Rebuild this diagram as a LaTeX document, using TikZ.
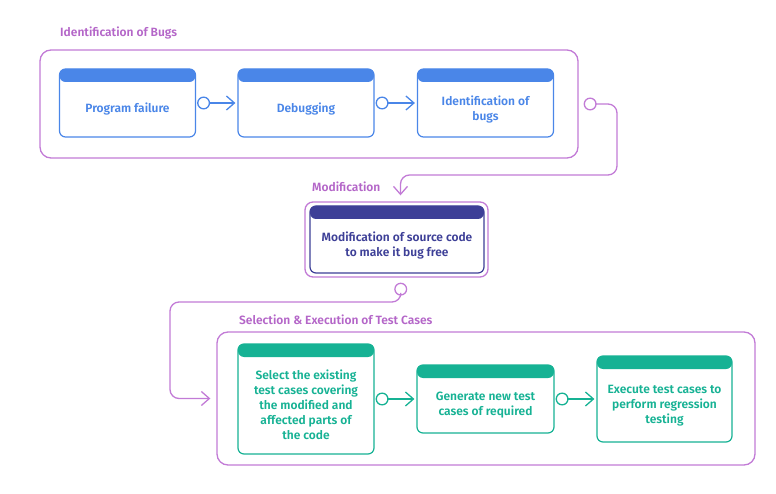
\documentclass[tikz,border=0pt]{standalone}
\usepackage{fontspec}
\setmainfont{Fira Sans}[BoldFont={Fira Sans SemiBold}]
\usetikzlibrary{arrows.meta}

\definecolor{bugblue}{HTML}{4A86E8}
\definecolor{modnavy}{HTML}{3D3F97}
\definecolor{testteal}{HTML}{16B294}
\definecolor{grppurple}{HTML}{C27BD6}
\definecolor{ttlpurple}{HTML}{B466C8}

\tikzset{
  grp/.style={draw=grppurple, line width=1.3pt, rounded corners=11pt, inner sep=0pt},
  hbox/.style={draw=#1, line width=1.2pt, rounded corners=6pt, fill=white, inner sep=0pt,
    path picture={\fill[#1] ([yshift=2pt]path picture bounding box.north west)
      rectangle ([yshift=-13pt]path picture bounding box.north east);}},
  btxt/.style={text=#1, align=center, inner sep=0pt},
  ttl/.style={text=ttlpurple, anchor=west, inner sep=0pt},
  link/.style={draw=#1, line width=1.3pt,
    arrows={Circle[open,length=13pt,width=13pt]-Straight Barb[length=8pt,width=14pt]},
    shorten <=1pt, shorten >=2pt},
  flow/.style={link=grppurple, rounded corners=9pt, shorten <=5pt, shorten >=6pt}
}

\begin{document}
\begin{tikzpicture}[x=1pt, y=-1pt, font=\fontsize{12pt}{15pt}\selectfont\bfseries]
    \useasboundingbox (0,0) rectangle (776,494);

    % Identification of bugs
    \node[ttl] (bugsttl) at (60,33) {Identification of Bugs};
    \node[grp, minimum width=538pt, minimum height=108pt] (bugs) at (309,104) {};
    \node[hbox=bugblue, minimum width=136pt, minimum height=68pt] (pf) at (127.5,103) {};
    \node[hbox=bugblue, minimum width=136pt, minimum height=68pt] (dbg) at (306,103) {};
    \node[hbox=bugblue, minimum width=136pt, minimum height=68pt] (idb) at (485.5,103) {};
    \node[btxt=bugblue] (pftxt) at ([yshift=-6.5pt]pf.center) {Program failure};
    \node[btxt=bugblue] (dbgtxt) at ([yshift=-6.5pt]dbg.center) {Debugging};
    \node[btxt=bugblue] (idbtxt) at ([yshift=-6.5pt]idb.center) {Identification of\\bugs};
    \draw[link=bugblue] (pf.east) -- (dbg.west);
    \draw[link=bugblue] (dbg.east) -- (idb.west);

    % Modification
    \node[ttl] (modttl) at (312,187) {Modification};
    \node[grp, rounded corners=8pt, minimum width=183pt, minimum height=75pt] (mod) at (396.5,239.5) {};
    \node[hbox=modnavy, minimum width=174pt, minimum height=67pt] (msc) at (397,239.5) {};
    \node[btxt=modnavy] (msctxt) at ([yshift=-6pt]msc.center) {Modification of source code\\to make it bug free};

    % Selection & execution of test cases
    \node[ttl] (selttl) at (239,320) {Selection \& Execution of Test Cases};
    \node[grp, minimum width=538pt, minimum height=133pt] (sel) at (486,398.5) {};
    \node[hbox=testteal, minimum width=136pt, minimum height=110pt] (stc) at (306,399) {};
    \node[hbox=testteal, minimum width=137pt, minimum height=68pt] (gen) at (485.5,399) {};
    \node[hbox=testteal, minimum width=135pt, minimum height=86pt] (exe) at (664.5,399) {};
    \node[btxt=testteal] (stctxt) at ([yshift=-6pt]stc.center)
        {Select the existing\\test cases covering\\the modified and\\affected parts of\\the code};
    \node[btxt=testteal] (gentxt) at ([yshift=-6pt]gen.center) {Generate new test\\cases of required};
    \node[btxt=testteal] (exetxt) at ([yshift=-6.5pt]exe.center) {Execute test cases to\\perform regression\\testing};
    \draw[link=testteal] (stc.east) -- (gen.west);
    \draw[link=testteal] (gen.east) -- (exe.west);

    % between the groups
    \coordinate (c1) at (617,104);
    \coordinate (c2) at (617,175);
    \coordinate (c3) at (401,302);
    \coordinate (c4) at (170,302);
    \draw[flow] (bugs.east) -- (c1) -- (c2) -| ([xshift=4pt]mod.north);
    \draw[flow] ([xshift=4pt]mod.south) -- (c3) -- (c4) |- (sel.west);
\end{tikzpicture}
\end{document}
